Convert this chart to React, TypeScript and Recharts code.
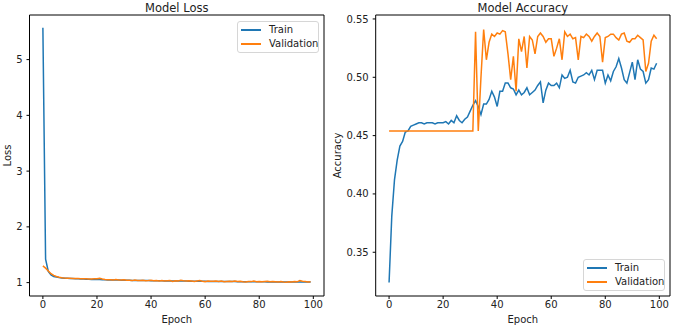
import React from 'react';
import { LineChart, Line, XAxis, YAxis, Legend, Label, ReferenceLine } from 'recharts';

const epochs = Array.from({ length: 100 }, (_, i) => i);

const trainLoss = [
  5.57, 1.42, 1.2, 1.14, 1.11, 1.1, 1.09, 1.085, 1.08, 1.078,
  1.075, 1.073, 1.07, 1.068, 1.067, 1.065, 1.062, 1.06, 1.058, 1.057,
  1.055, 1.056, 1.052, 1.05, 1.049, 1.048, 1.046, 1.047, 1.045, 1.044,
  1.043, 1.042, 1.041, 1.04, 1.04, 1.039, 1.038, 1.037, 1.036, 1.036,
  1.035, 1.034, 1.033, 1.033, 1.032, 1.031, 1.031, 1.03, 1.03, 1.029,
  1.028, 1.028, 1.027, 1.027, 1.026, 1.025, 1.025, 1.024, 1.024, 1.023,
  1.023, 1.022, 1.022, 1.021, 1.021, 1.02, 1.02, 1.02, 1.019, 1.019,
  1.018, 1.018, 1.017, 1.017, 1.017, 1.016, 1.016, 1.015, 1.015, 1.015,
  1.014, 1.014, 1.014, 1.013, 1.013, 1.013, 1.012, 1.012, 1.012, 1.011,
  1.011, 1.011, 1.011, 1.01, 1.01, 1.01, 1.01, 1.009, 1.009, 1.009,
];

const valLoss = [
  1.3, 1.26, 1.21, 1.16, 1.13, 1.11, 1.095, 1.087, 1.082, 1.079,
  1.077, 1.075, 1.074, 1.072, 1.071, 1.07, 1.068, 1.066, 1.067, 1.068,
  1.07, 1.076, 1.066, 1.058, 1.052, 1.05, 1.046, 1.055, 1.048, 1.045,
  1.05, 1.042, 1.044, 1.036, 1.046, 1.04, 1.038, 1.042, 1.035, 1.037,
  1.041, 1.032, 1.036, 1.03, 1.038, 1.029, 1.034, 1.039, 1.022, 1.035,
  1.031, 1.042, 1.033, 1.027, 1.035, 1.03, 1.02, 1.028, 1.036, 1.025,
  1.018, 1.03, 1.026, 1.024, 1.028, 1.021, 1.03, 1.015, 1.022, 1.026,
  1.019, 1.028, 1.02, 1.024, 1.016, 1.012, 1.022, 1.018, 1.028, 1.016,
  1.022, 1.015, 1.019, 1.024, 1.014, 1.02, 1.017, 1.012, 1.021, 1.01,
  1.006, 1.016, 1.012, 1.019, 1.014, 1.037, 1.025, 1.02, 1.012, 1.016,
];

const trainAcc = [
  0.324, 0.381, 0.412, 0.429, 0.441, 0.445, 0.453, 0.454, 0.458, 0.459,
  0.46, 0.461, 0.461, 0.46, 0.461, 0.461, 0.461, 0.46, 0.461, 0.461,
  0.461, 0.462, 0.46, 0.463, 0.461, 0.467, 0.463, 0.461, 0.464, 0.466,
  0.471, 0.476, 0.48, 0.475, 0.468, 0.477, 0.477, 0.481, 0.488, 0.483,
  0.475, 0.488, 0.488, 0.495, 0.495, 0.491, 0.49, 0.485, 0.489, 0.485,
  0.487, 0.491, 0.485, 0.487, 0.489, 0.493, 0.496, 0.478, 0.489, 0.495,
  0.493, 0.493, 0.495, 0.491, 0.502, 0.499, 0.5, 0.506, 0.496, 0.495,
  0.5, 0.501, 0.502, 0.504, 0.502, 0.506, 0.498, 0.506, 0.506, 0.506,
  0.495, 0.502, 0.497, 0.505, 0.509, 0.516, 0.508, 0.498, 0.495, 0.504,
  0.513, 0.498, 0.515, 0.507, 0.505, 0.495, 0.498, 0.508, 0.507, 0.512,
];

const valAcc = [
  0.454, 0.454, 0.454, 0.454, 0.454, 0.454, 0.454, 0.454, 0.454, 0.454,
  0.454, 0.454, 0.454, 0.454, 0.454, 0.454, 0.454, 0.454, 0.454, 0.454,
  0.454, 0.454, 0.454, 0.454, 0.454, 0.454, 0.454, 0.454, 0.454, 0.454,
  0.454, 0.454, 0.539, 0.454, 0.5, 0.541, 0.515, 0.53, 0.537, 0.535,
  0.538, 0.537, 0.54, 0.539, 0.52, 0.498, 0.518, 0.488, 0.533, 0.522,
  0.535, 0.508, 0.535, 0.532, 0.52, 0.535, 0.538, 0.535, 0.53, 0.533,
  0.533, 0.518, 0.525, 0.533, 0.515, 0.539, 0.535, 0.537, 0.533, 0.534,
  0.515, 0.535, 0.534, 0.537, 0.535, 0.531, 0.535, 0.538, 0.535, 0.513,
  0.534, 0.535, 0.537, 0.537, 0.534, 0.532, 0.537, 0.538, 0.531, 0.53,
  0.533, 0.533, 0.536, 0.534, 0.532, 0.505, 0.512, 0.531, 0.536, 0.533,
];

const epochTicks = [0, 20, 40, 60, 80, 100];
const lossTicks = [1, 2, 3, 4, 5];
const accTicks = [0.35, 0.4, 0.45, 0.5, 0.55];

const lossData = epochs.map((e, i) => ({ epoch: e, train: trainLoss[i], val: valLoss[i] }));
const accData = epochs.map((e, i) => ({ epoch: e, train: trainAcc[i], val: valAcc[i] }));

const BLUE = '#1f77b4';
const ORANGE = '#ff7f0e';
const TEXT = '#222';
const X_DOMAIN: [number, number] = [-4.95, 103.95];

const tickStyle = { fontSize: 10, fill: TEXT };

const MplLegend = () => (
  <div
    style={{
      width: 80,
      height: 30,
      border: '1px solid #d6d6d6',
      borderRadius: 3,
      background: 'rgba(255,255,255,0.8)',
      fontSize: 10,
      color: TEXT,
      position: 'relative',
    }}
  >
    {[
      { name: 'Train', color: BLUE, top: 1 },
      { name: 'Validation', color: ORANGE, top: 15 },
    ].map((it) => (
      <div key={it.name} style={{ position: 'absolute', left: 0, top: it.top, height: 14, display: 'flex', alignItems: 'center' }}>
        <span style={{ display: 'inline-block', marginLeft: 3, width: 20, height: 2, background: it.color }} />
        <span style={{ marginLeft: 8, lineHeight: '14px' }}>{it.name}</span>
      </div>
    ))}
  </div>
);

const yLabel = (text: string, cx: number) => (props: any) => {
  const vb = props.viewBox || { y: 15, height: 281 };
  const cy = vb.y + vb.height / 2;
  return (
    <text x={cx} y={cy} transform={`rotate(-90, ${cx}, ${cy})`} textAnchor="middle" dominantBaseline="central" fontSize={10} fill={TEXT}>
      {text}
    </text>
  );
};

const xLabel = (props: any) => {
  const vb = props.viewBox || { x: 0, width: 0, y: 296 };
  return (
    <text x={vb.x + vb.width / 2} y={323} textAnchor="middle" fontSize={10} fill={TEXT}>
      Epoch
    </text>
  );
};

interface PanelProps {
  data: { epoch: number; train: number; val: number }[];
  left: number;
  width: number;
  yWidth: number;
  rightMargin: number;
  yDomain: [number, number];
  yTicks: number[];
  yFormat?: (v: number) => string;
  title: string;
  yTitle: string;
  yTitleX: number;
  legendPos: { left: number; top: number };
}

const Panel = ({ data, left, width, yWidth, rightMargin, yDomain, yTicks, yFormat, title, yTitle, yTitleX, legendPos }: PanelProps) => (
  <div style={{ position: 'absolute', left, top: 0, width, height: 326 }}>
    <div
      style={{
        position: 'absolute',
        left: yWidth,
        width: width - yWidth - rightMargin,
        top: 1,
        textAlign: 'center',
        fontSize: 11.5,
        color: TEXT,
      }}
    >
      {title}
    </div>
    <LineChart width={width} height={326} data={data} margin={{ top: 15, right: rightMargin, bottom: 0, left: 0 }}>
      <XAxis
        dataKey="epoch"
        type="number"
        domain={X_DOMAIN}
        ticks={epochTicks}
        allowDataOverflow
        height={30}
        tick={tickStyle}
        tickSize={3}
        tickMargin={2}
        stroke="#000"
        interval={0}
      >
        <Label content={xLabel} />
      </XAxis>
      <YAxis
        type="number"
        domain={yDomain}
        ticks={yTicks}
        allowDataOverflow
        width={yWidth}
        tick={tickStyle}
        tickSize={3}
        tickMargin={4}
        tickFormatter={yFormat}
        stroke="#000"
        interval={0}
      >
        <Label content={yLabel(yTitle, yTitleX)} />
      </YAxis>
      <Line dataKey="train" name="Train" stroke={BLUE} strokeWidth={1.5} dot={false} activeDot={false} isAnimationActive={false} />
      <Line dataKey="val" name="Validation" stroke={ORANGE} strokeWidth={1.5} dot={false} activeDot={false} isAnimationActive={false} />
      {/* top and right spines */}
      <ReferenceLine y={yDomain[1]} stroke="#000" strokeWidth={1} ifOverflow="visible" />
      <ReferenceLine x={X_DOMAIN[1]} stroke="#000" strokeWidth={1} ifOverflow="visible" />
      <Legend
        layout="vertical"
        align="center"
        verticalAlign="middle"
        content={() => <MplLegend />}
        wrapperStyle={{ position: 'absolute', left: legendPos.left, top: legendPos.top, width: 'auto', height: 'auto' }}
      />
    </LineChart>
  </div>
);

export default function App() {
  return (
    <div style={{ position: 'absolute', left: 0, top: 0, width: 680, height: 326, background: '#fff', fontFamily: '"DejaVu Sans", sans-serif' }}>
      <Panel
        data={lossData}
        left={0}
        width={340}
        yWidth={29.5}
        rightMargin={16}
        yDomain={[0.76, 5.8]}
        yTicks={lossTicks}
        title="Model Loss"
        yTitle="Loss"
        yTitleX={7}
        legendPos={{ left: 237, top: 21 }}
      />
      <Panel
        data={accData}
        left={326}
        width={354}
        yWidth={49.7}
        rightMargin={10}
        yDomain={[0.3125, 0.5534]}
        yTicks={accTicks}
        yFormat={(v: number) => v.toFixed(2)}
        title="Model Accuracy"
        yTitle="Accuracy"
        yTitleX={11.5}
        legendPos={{ left: 257, top: 259 }}
      />
    </div>
  );
}
